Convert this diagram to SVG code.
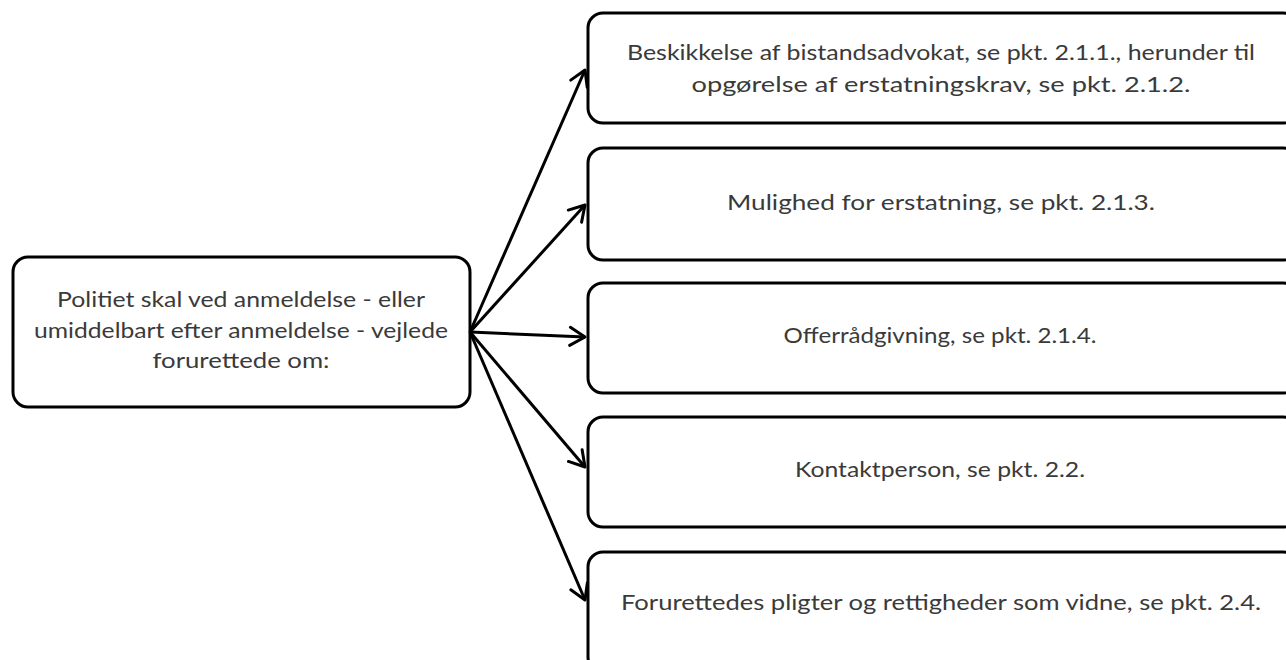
<svg xmlns="http://www.w3.org/2000/svg" width="1286" height="660" viewBox="0 0 1286 660">
<defs>
<style>
.box{fill:#fff;stroke:#000;stroke-width:3}
.t{font-family:Lato,"Open Sans","Liberation Sans",sans-serif;font-size:22px;fill:#3a3a3a;text-anchor:middle}
.c{stroke:#000;stroke-width:3;fill:none}
</style>
<marker id="ah" markerUnits="userSpaceOnUse" markerWidth="24" markerHeight="24" refX="18" refY="12" orient="auto">
<path d="M3,3 L18,12 L3,21" fill="none" stroke="#000" stroke-width="3" stroke-linecap="round" stroke-linejoin="round"/>
</marker>
</defs>
<rect width="1286" height="660" fill="#fff"/>
<g id="source">
<rect class="box" x="13" y="257" width="457" height="150" rx="15"/>
<text class="t" x="241" y="307" textLength="368" lengthAdjust="spacingAndGlyphs">Politiet skal ved anmeldelse - eller</text>
<text class="t" x="241" y="338" textLength="414" lengthAdjust="spacingAndGlyphs">umiddelbart efter anmeldelse - vejlede</text>
<text class="t" x="241" y="368" textLength="177" lengthAdjust="spacingAndGlyphs">forurettede om:</text>
</g>
<g id="n1">
<rect class="box" x="588" y="13" width="710" height="110" rx="15"/>
<text class="t" x="941" y="60" textLength="628" lengthAdjust="spacingAndGlyphs">Beskikkelse af bistandsadvokat, se pkt. 2.1.1., herunder til</text>
<text class="t" x="941" y="92" textLength="499" lengthAdjust="spacingAndGlyphs">opgørelse af erstatningskrav, se pkt. 2.1.2.</text>
</g>
<g id="n2">
<rect class="box" x="588" y="148" width="710" height="112" rx="15"/>
<text class="t" x="941" y="210" textLength="428" lengthAdjust="spacingAndGlyphs">Mulighed for erstatning, se pkt. 2.1.3.</text>
</g>
<g id="n3">
<rect class="box" x="588" y="283" width="710" height="110" rx="15"/>
<text class="t" x="940" y="343" textLength="313" lengthAdjust="spacingAndGlyphs">Offerrådgivning, se pkt. 2.1.4.</text>
</g>
<g id="n4">
<rect class="box" x="588" y="417" width="710" height="110" rx="15"/>
<text class="t" x="940" y="477" textLength="290" lengthAdjust="spacingAndGlyphs">Kontaktperson, se pkt. 2.2.</text>
</g>
<g id="n5">
<rect class="box" x="588" y="552" width="710" height="120" rx="15"/>
<text class="t" x="941" y="610" textLength="640" lengthAdjust="spacingAndGlyphs">Forurettedes pligter og rettigheder som vidne, se pkt. 2.4.</text>
</g>
<g id="connectors">
<line class="c" x1="470" y1="332" x2="585" y2="70" marker-end="url(#ah)"/>
<line class="c" x1="470" y1="332" x2="585" y2="205" marker-end="url(#ah)"/>
<line class="c" x1="470" y1="332" x2="585" y2="337" marker-end="url(#ah)"/>
<line class="c" x1="470" y1="332" x2="585" y2="467" marker-end="url(#ah)"/>
<line class="c" x1="470" y1="332" x2="585" y2="600" marker-end="url(#ah)"/>
</g>
</svg>
